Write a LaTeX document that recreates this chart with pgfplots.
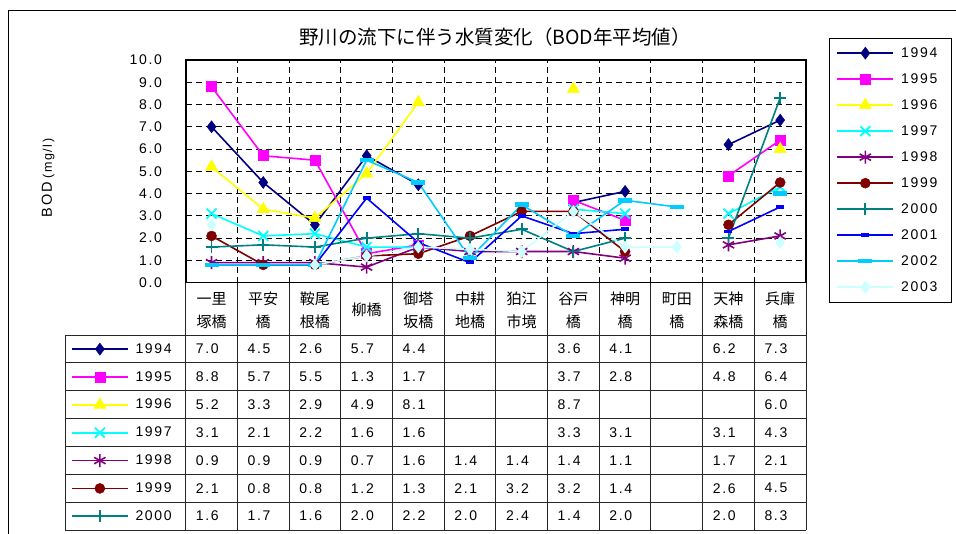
\documentclass[border=0pt]{standalone}
\usepackage{pgfplots}
\usepackage{pgfplotstable}
\pgfplotsset{compat=1.18}
\usepackage{fontspec}
\setmainfont{Liberation Sans}[LetterSpace=12]
\newfontfamily\jp{Noto Sans CJK JP}
\definecolor{c94}{HTML}{000080}
\definecolor{c95}{HTML}{FF00FF}
\definecolor{c96}{HTML}{FFFF00}
\definecolor{c97}{HTML}{00FFFF}
\definecolor{c98}{HTML}{800080}
\definecolor{c99}{HTML}{800000}
\definecolor{c00}{HTML}{008080}
\definecolor{c01}{HTML}{0000FF}
\definecolor{c02}{HTML}{00CCFF}
\definecolor{c03}{HTML}{CCFFFF}

\pgfplotstableread{
x y94 y95 y96 y97 y98 y99 y00 y01 y02 y03
0 7.0 8.8 5.2 3.1 0.9 2.1 1.6 0.8 0.8 2.6
1 4.5 5.7 3.3 2.1 0.9 0.8 1.7 0.8 0.8 nan
2 2.6 5.5 2.9 2.2 0.9 0.8 1.6 0.8 0.8 0.8
3 5.7 1.3 4.9 1.6 0.7 1.2 2.0 3.8 5.5 1.2
4 4.4 1.7 8.1 1.6 1.6 1.3 2.2 1.8 4.5 1.6
5 nan nan nan nan 1.4 2.1 2.0 0.9 1.1 1.5
6 nan nan nan nan 1.4 3.2 2.4 3.0 3.5 1.4
7 3.6 3.7 8.7 3.3 1.4 3.2 1.4 2.2 2.1 3.2
8 4.1 2.8 nan 3.1 1.1 1.4 2.0 2.4 3.7 1.6
9 nan nan nan nan nan nan nan nan 3.4 1.6
10 6.2 4.8 nan 3.1 1.7 2.6 2.0 2.3 nan nan
11 7.3 6.4 6.0 4.3 2.1 4.5 8.3 3.4 4.0 1.8
}\bod

\newcommand{\numfont}{\fontsize{14bp}{16bp}\selectfont}
\pgfplotsset{
 s94/.style={color=c94, line width=1.6bp, mark=diamond*, mark size=6bp, mark options={solid, fill=c94, line width=0.5bp}},
 s95/.style={color=c95, line width=1.6bp, mark=square*, mark size=5bp, mark options={solid, fill=c95, line width=0.5bp}},
 s96/.style={color=c96, line width=1.6bp, mark=triangle*, mark size=7bp, mark options={solid, fill=c96, line width=0.5bp}},
 s97/.style={color=c97, line width=1.6bp, mark=x, mark size=7bp, mark options={solid, line width=1.8bp}},
 s98/.style={color=c98, line width=1.6bp, mark=asterisk, mark size=6.5bp, mark options={solid, line width=1.6bp}},
 s99/.style={color=c99, line width=1.6bp, mark=*, mark size=5bp, mark options={solid, fill=c99, line width=0.5bp}},
 s00/.style={color=c00, line width=1.6bp, mark=+, mark size=6bp, mark options={solid, line width=1.8bp}},
 s01/.style={color=c01, line width=1.6bp, mark=-, mark size=4bp, mark options={solid, line width=3.5bp}},
 s02/.style={color=c02, line width=1.6bp, mark=-, mark size=7bp, mark options={solid, line width=4.5bp}},
 s03/.style={color=c03, line width=1.6bp, mark=diamond*, mark size=6bp, mark options={solid, fill=c03, line width=0.5bp}},
}

\begin{document}
\begin{tikzpicture}[x=1bp,y=1bp]
\path[use as bounding box] (0,0) rectangle (956,534);
% chart frame
\draw[line width=1bp] (8.3,0) -- (8.3,523.3) -- (956,523.3);

\begin{axis}[
 at={(185.7bp,251.3bp)}, anchor=south west, scale only axis,
 width=620.3bp, height=222.7bp,
 xmin=-0.5, xmax=11.5, ymin=0, ymax=10,
 xtick={0.5,1.5,...,10.5},
 xticklabel style={opacity=0},
 xmajorgrids, ymajorgrids,
 ytick={0,1,...,10},
 major grid style={black, line width=1bp, dash pattern=on 6bp off 4bp},
 axis line style={line width=1.6bp},
 major tick length=0pt,
 /pgf/number format/assume math mode=true,
 yticklabel={\pgfmathprintnumber[fixed,fixed zerofill,precision=1]{\tick}},
 yticklabel style={font=\numfont, anchor=east, inner sep=0pt, xshift=-23.5bp},
 unbounded coords=jump,
 clip=false,
 legend cell align=left,
 legend image code/.code={\draw[mark repeat=2,mark phase=2,#1] plot coordinates {(0bp,0bp) (28bp,0bp) (56bp,0bp)};},
 legend style={at={(1.0376,1.0975)}, anchor=north west, draw=black, fill=white,
   font=\numfont, row sep=0bp, inner xsep=7bp, inner ysep=1.7bp,
   nodes={inner ysep=0bp, inner xsep=7bp, minimum height=26bp}},
]
\addplot[s94] table[x=x,y=y94]{\bod}; \addlegendentry{1994}
\addplot[s95] table[x=x,y=y95]{\bod}; \addlegendentry{1995}
\addplot[s96] table[x=x,y=y96]{\bod}; \addlegendentry{1996}
\addplot[s97] table[x=x,y=y97]{\bod}; \addlegendentry{1997}
\addplot[s98] table[x=x,y=y98]{\bod}; \addlegendentry{1998}
\addplot[s99] table[x=x,y=y99]{\bod}; \addlegendentry{1999}
\addplot[s00] table[x=x,y=y00]{\bod}; \addlegendentry{2000}
\addplot[s01] table[x=x,y=y01]{\bod}; \addlegendentry{2001}
\addplot[s02] table[x=x,y=y02]{\bod}; \addlegendentry{2002}
\addplot[s03] table[x=x,y=y03]{\bod}; \addlegendentry{2003}
\end{axis}

% legend keys of the data table
\begin{axis}[
 at={(65bp,199bp)}, anchor=north west, scale only axis, width=10bp, height=10bp,
 hide axis, xmin=0, xmax=1, ymin=0, ymax=1,
 legend cell align=left,
 legend image code/.code={\draw[mark repeat=2,mark phase=2,#1] plot coordinates {(0bp,0bp) (27.85bp,0bp) (55.7bp,0bp)};},
 legend style={at={(0,1)}, anchor=north west, draw=none, fill=none,
   font=\numfont, row sep=0bp, inner xsep=6bp, inner ysep=0bp,
   nodes={inner ysep=0bp, inner xsep=7bp, minimum height=27.86bp}},
]
\addlegendimage{s94}\addlegendentry{1994}
\addlegendimage{s95}\addlegendentry{1995}
\addlegendimage{s96}\addlegendentry{1996}
\addlegendimage{s97}\addlegendentry{1997}
\addlegendimage{s98}\addlegendentry{1998}
\addlegendimage{s99}\addlegendentry{1999}
\addlegendimage{s00}\addlegendentry{2000}
\end{axis}

% title and y label
\node[font=\jp\fontsize{19.5bp}{22bp}\selectfont] at (495,497) {野川の流下に伴う水質変化（BOD年平均値）};
\node[rotate=90, font=\fontsize{14.5bp}{16bp}\selectfont] at (48,356) {BOD\hspace{4bp}{\fontsize{12.5bp}{14bp}\selectfont(mg/l)}};

% data table lines
\begin{scope}[line width=0.9bp, black!85]
\foreach \i in {0,...,12} {\draw ({185.7+51.692*\i},251.3) -- ({185.7+51.692*\i},4);}
\draw (65,199) -- (65,4);
\foreach \k in {0,...,7} {\draw (65,{199-27.86*\k}) -- (806,{199-27.86*\k});}
\end{scope}

% category names
\begin{scope}[font=\jp\fontsize{15bp}{18bp}\selectfont]
\foreach \a/\b [count=\i from 0] in {一里/塚橋,平安/橋,鞍尾/根橋,x/x,御塔/坂橋,中耕/地橋,狛江/市境,谷戸/橋,神明/橋,町田/橋,天神/森橋,兵庫/橋} {
  \ifnum\i=3\relax\else
  \node at ({185.7+51.692*(\i+0.5)},235) {\a};
  \node at ({185.7+51.692*(\i+0.5)},212.5) {\b};
  \fi
}
\node at ({185.7+51.692*3.5},224) {柳橋};
\end{scope}

% table values
\begin{scope}[font=\numfont]
\foreach \row [count=\k from 0] in {
 {7.0,4.5,2.6,5.7,4.4,,,3.6,4.1,,6.2,7.3},
 {8.8,5.7,5.5,1.3,1.7,,,3.7,2.8,,4.8,6.4},
 {5.2,3.3,2.9,4.9,8.1,,,8.7,,,,6.0},
 {3.1,2.1,2.2,1.6,1.6,,,3.3,3.1,,3.1,4.3},
 {0.9,0.9,0.9,0.7,1.6,1.4,1.4,1.4,1.1,,1.7,2.1},
 {2.1,0.8,0.8,1.2,1.3,2.1,3.2,3.2,1.4,,2.6,4.5},
 {1.6,1.7,1.6,2.0,2.2,2.0,2.4,1.4,2.0,,2.0,8.3}} {
  \foreach \v [count=\i from 0] in \row {
    \node[anchor=west, inner sep=0pt] at ({185.7+51.692*\i+10},{199-27.86*(\k+0.5)}) {\v};
  }
}
\end{scope}
\end{tikzpicture}
\end{document}
